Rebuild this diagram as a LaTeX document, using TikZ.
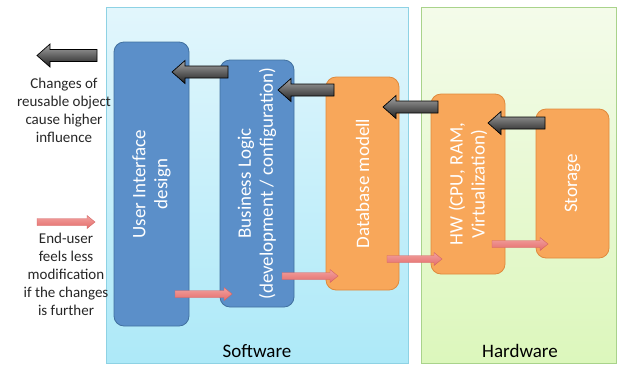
\documentclass[tikz,border=0pt]{standalone}
\usepackage{fontspec}
\setmainfont{Carlito}
\usetikzlibrary{calc}

\definecolor{swtop}{HTML}{E2F6FC}
\definecolor{swbot}{HTML}{ADE9F8}
\definecolor{swline}{HTML}{8ED2E4}
\definecolor{hwtop}{HTML}{F4FBEA}
\definecolor{hwbot}{HTML}{DCF7BC}
\definecolor{hwline}{HTML}{A9D38B}
\definecolor{blfill}{HTML}{5B8FC9}
\definecolor{blline}{HTML}{41709F}
\definecolor{orfill}{HTML}{F8A75A}
\definecolor{orline}{HTML}{DF8A3C}
\definecolor{pktop}{HTML}{F2A09E}
\definecolor{pkbot}{HTML}{E46E6C}
\definecolor{pkline}{HTML}{D36362}

\tikzset{
	layer/.style={rectangle, line width=0.8pt},
	stackbox/.style={rectangle, rounded corners=10pt, line width=0.8pt,
		rotate=90, align=center, text=white, font=\fontsize{19}{22}\selectfont},
	bluebox/.style={stackbox, fill=blfill, draw=blline},
	orangebox/.style={stackbox, fill=orfill, draw=orline},
	darkarrow/.style={top color=black!35, bottom color=black!88, draw=black, line width=0.7pt},
	pinkarrow/.style={top color=pktop, bottom color=pkbot, draw=pkline, line width=0.4pt},
	note/.style={align=center, font=\fontsize{15}{18}\selectfont, text=black!85}
}

% block arrow pointing left, tail #1, tip #2
\newcommand{\backarrow}[2]{
	\path[darkarrow] let \p1=(#1), \p2=(#2) in
		(\x1,\y1+6pt) -- (\x2+13pt,\y1+6pt) -- (\x2+13pt,\y1+11.5pt) -- (\x2,\y1)
		-- (\x2+13pt,\y1-11.5pt) -- (\x2+13pt,\y1-6pt) -- (\x1,\y1-6pt) -- cycle;
}
% block arrow pointing right, tail #1, tip #2
\newcommand{\fwdarrow}[2]{
	\path[pinkarrow] let \p1=(#1), \p2=(#2) in
		(\x1,\y1+3.5pt) -- (\x2-8pt,\y1+3.5pt) -- (\x2-8pt,\y1+6.5pt) -- (\x2,\y1)
		-- (\x2-8pt,\y1-6.5pt) -- (\x2-8pt,\y1-3.5pt) -- (\x1,\y1-3.5pt) -- cycle;
}

\begin{document}
\begin{tikzpicture}[x=1pt, y=-1pt]

	\useasboundingbox (0,0) rectangle (617,365);

	% the two layers
	\path[layer, top color=swtop, bottom color=swbot, draw=swline] (106,7) rectangle (408,363);
	\path[layer, top color=hwtop, bottom color=hwbot, draw=hwline] (421,7) rectangle (616.5,363);
	\node (sw) at (257,351) {\fontsize{19}{22}\selectfont Software};
	\node (hwl) at (520,351) {\fontsize{19}{22}\selectfont Hardware};

	% the stack
	\node[bluebox, minimum width=284pt, minimum height=75pt] (ui) at (151.5,184) {User Interface\\design};
	\node[bluebox, minimum width=247pt, minimum height=74pt] (bl) at (257,183.5) {Business Logic\\(development / configuration)};
	\node[orangebox, minimum width=213pt, minimum height=73pt] (db) at (362.5,183.5) {Database modell};
	\node[orangebox, minimum width=180pt, minimum height=74pt] (hw) at (468,184) {HW (CPU, RAM,\\Virtualization)};
	\node[orangebox, minimum width=149pt, minimum height=73pt] (st) at (572.5,183.5) {Storage};

	% legend
	\node[note] (n1) at (64,110) {Changes of\\reusable object\\cause higher\\influence};
	\node[note] (n2) at (66,274) {End-user\\feels less\\modification\\if the changes\\is further};

	% arrow ends
	\coordinate (g0t) at (97,55.5);  \coordinate (g0h) at (37,55.5);
	\coordinate (g1t) at (228,72);   \coordinate (g1h) at (172,72);
	\coordinate (g2t) at (334,90);   \coordinate (g2h) at (278,90);
	\coordinate (g3t) at (438,107);  \coordinate (g3h) at (383,107);
	\coordinate (g4t) at (545,123);  \coordinate (g4h) at (488,123);

	\coordinate (r0t) at (37,222);   \coordinate (r0h) at (95,222);
	\coordinate (r1t) at (175,294);  \coordinate (r1h) at (232,294);
	\coordinate (r2t) at (282,276);  \coordinate (r2h) at (338,276);
	\coordinate (r3t) at (387,259);  \coordinate (r3h) at (442,259);
	\coordinate (r4t) at (492,244);  \coordinate (r4h) at (548,244);

	\foreach \i in {0,...,4}
	{
		\backarrow{g\i t}{g\i h}
		\fwdarrow{r\i t}{r\i h}
	};

\end{tikzpicture}
\end{document}
